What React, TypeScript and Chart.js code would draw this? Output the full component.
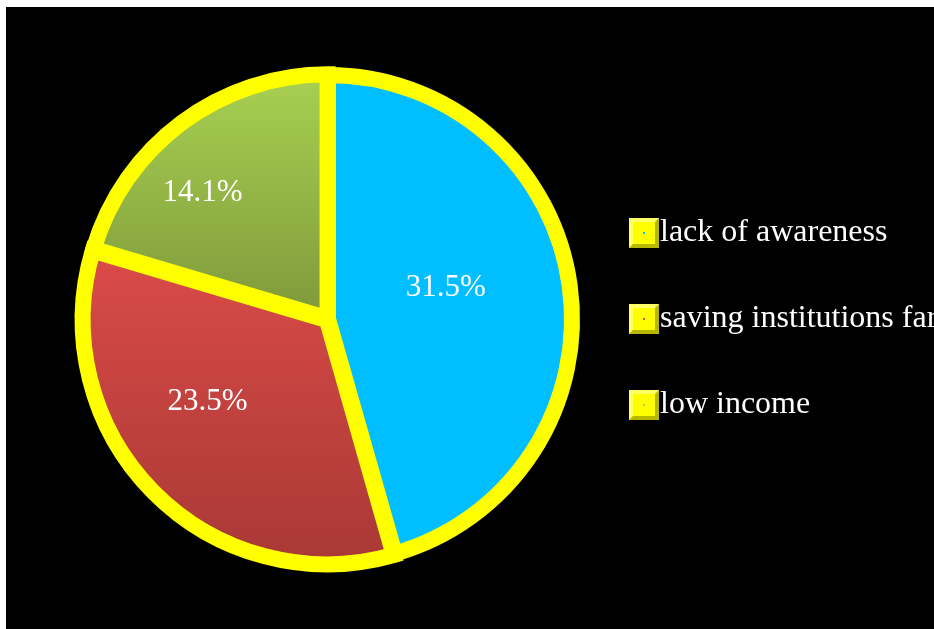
import React, { useEffect, useRef } from "react";
import { Chart, registerables } from "chart.js";

Chart.register(...registerables);

// ---- data ----
const categories = ["lack of awareness", "saving institutions far", "low income"];
const values = [31.5, 23.5, 14.1];

// ---- styles ----
const sliceTop = ["#00BEFF", "#DB4B48", "#AAD353"];
const sliceBottom = ["#00BEFF", "#A73835", "#7E993A"];
const sliceOffset = [0, 6, 3];
const labelRadial = [0.5, 0.6, 0.73];
const labelAngleShift = [-7, 10, -8];
const FONT = '"Liberation Serif", "Times New Roman", serif';

function sliceExtent(i: number, cy: number, r: number): [number, number] {
  const total = values.reduce((a, b) => a + b, 0);
  let start = 0;
  for (let k = 0; k < i; k++) start += values[k] / total;
  const end = start + values[i] / total;
  let minY = cy;
  let maxY = cy;
  for (let s = 0; s <= 60; s++) {
    const t = (start + ((end - start) * s) / 60) * Math.PI * 2;
    const y = cy - r * Math.cos(t);
    if (y < minY) minY = y;
    if (y > maxY) maxY = y;
  }
  return [minY, maxY];
}

const overlayPlugin = {
  id: "overlay",
  afterDatasetsDraw(chart: any) {
    const ctx = chart.ctx;
    const meta = chart.getDatasetMeta(0);
    ctx.save();
    ctx.fillStyle = "#FFFFFF";
    ctx.font = `31px ${FONT}`;
    ctx.textAlign = "center";
    ctx.textBaseline = "middle";
    meta.data.forEach((arc: any, i: number) => {
      const mid = (arc.startAngle + arc.endAngle) / 2 + (labelAngleShift[i] * Math.PI) / 180;
      const R = arc.outerRadius * labelRadial[i];
      const x = arc.x + Math.cos(mid) * R;
      const y = arc.y + Math.sin(mid) * R;
      ctx.fillText(`${values[i].toFixed(1)}%`, x, y);
    });
    ctx.restore();
  },
  afterDraw(chart: any) {
    const ctx = chart.ctx;
    const area = chart.chartArea;
    const cy = (area.top + area.bottom) / 2;
    const bx = area.right + 46;
    const rowGap = 86;
    const box = 30;
    ctx.save();
    categories.forEach((label, i) => {
      const yc = cy + (i - (categories.length - 1) / 2) * rowGap;
      const x0 = bx;
      const y0 = yc - box / 2;
      // bevelled yellow box
      ctx.fillStyle = "#FFFF00";
      ctx.fillRect(x0, y0, box, box);
      ctx.fillStyle = "#FFFF66";
      ctx.beginPath();
      ctx.moveTo(x0, y0);
      ctx.lineTo(x0 + box, y0);
      ctx.lineTo(x0 + box - 4, y0 + 4);
      ctx.lineTo(x0 + 4, y0 + 4);
      ctx.lineTo(x0 + 4, y0 + box - 4);
      ctx.lineTo(x0, y0 + box);
      ctx.closePath();
      ctx.fill();
      ctx.fillStyle = "#B8B800";
      ctx.beginPath();
      ctx.moveTo(x0 + box, y0);
      ctx.lineTo(x0 + box, y0 + box);
      ctx.lineTo(x0, y0 + box);
      ctx.lineTo(x0 + 4, y0 + box - 4);
      ctx.lineTo(x0 + box - 4, y0 + box - 4);
      ctx.lineTo(x0 + box - 4, y0 + 4);
      ctx.closePath();
      ctx.fill();
      ctx.fillStyle = sliceTop[i];
      ctx.fillRect(x0 + box / 2 - 1, yc - 1, 2, 2);
      // text
      ctx.fillStyle = "#FFFFFF";
      ctx.font = `32px ${FONT}`;
      ctx.textAlign = "left";
      ctx.textBaseline = "middle";
      ctx.fillText(label, x0 + box + 1, yc);
    });
    ctx.restore();
  },
};

export default function App() {
  const canvasRef = useRef<HTMLCanvasElement | null>(null);

  useEffect(() => {
    if (!canvasRef.current) return;
    const chart = new Chart(canvasRef.current, {
      type: "pie",
      data: {
        labels: categories,
        datasets: [
          {
            data: values,
            backgroundColor: (c: any) => {
              const i = c.dataIndex;
              const chart = c.chart;
              const area = chart.chartArea;
              if (!area || i === undefined) return sliceTop[i ?? 0];
              const cy = (area.top + area.bottom) / 2;
              const r = Math.min(area.right - area.left, area.bottom - area.top) / 2;
              const [y0, y1] = sliceExtent(i, cy, r);
              const g = chart.ctx.createLinearGradient(0, y0, 0, y1);
              g.addColorStop(0, sliceTop[i]);
              g.addColorStop(1, sliceBottom[i]);
              return g;
            },
            borderColor: "#FFFF00",
            borderWidth: 16,
            hoverBorderWidth: 16,
            borderJoinStyle: "miter",
            offset: sliceOffset,
            hoverOffset: 0,
          } as any,
        ],
      },
      options: {
        animation: false,
        responsive: true,
        maintainAspectRatio: false,
        events: [],
        layout: { padding: { left: 67, top: 57, right: 351, bottom: 55 } },
        plugins: {
          legend: { display: false },
          tooltip: { enabled: false },
        },
      },
      plugins: [overlayPlugin],
    });
    return () => chart.destroy();
  }, []);

  return (
    <div
      style={{
        position: "fixed",
        left: 6,
        top: 7,
        width: 928,
        height: 622,
        background: "#000000",
        overflow: "hidden",
      }}
    >
      <canvas ref={canvasRef} />
    </div>
  );
}
